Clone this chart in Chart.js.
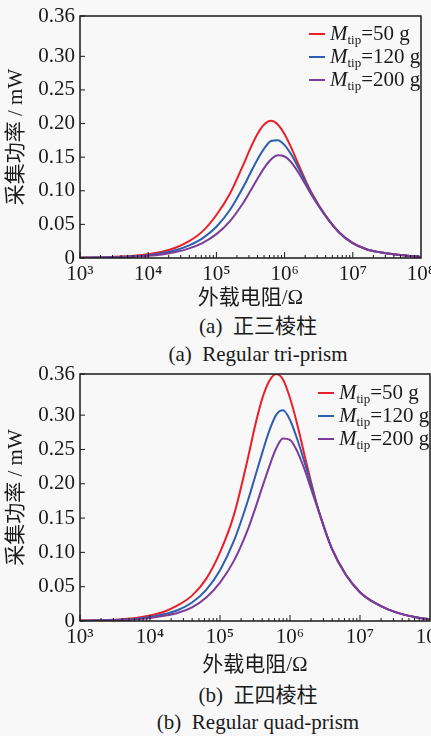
<!DOCTYPE html>
<html>
<head>
<meta charset="UTF-8">
<title>采集功率 - 外载电阻</title>
<script src="https://cdn.jsdelivr.net/npm/chart.js@4.4.0/dist/chart.umd.min.js"></script>
<style>
  body { margin:0; background:#f8f8f8; width:431px; height:736px; position:relative; overflow:hidden;
         font-family:'Liberation Serif','Noto Sans CJK SC',serif; color:#1a1a1a; }
  canvas { position:absolute; left:0; }
  .cap { position:absolute; left:258px; transform:translateX(-50%); white-space:nowrap; font-size:21px; line-height:24px; }
  .legend { position:absolute; font-size:21px; }
  .row { display:flex; align-items:center; height:23px; white-space:nowrap; }
  .row .ln { width:16px; height:2px; margin-right:5px; }
  .row .sub { font-size:13px; position:relative; top:6px; }
</style>
</head>
<body>

<canvas id="c1" width="431" height="309" style="top:0"></canvas>
<div class="legend" id="lg1" style="left:309px; top:22px"></div>
<div class="cap" style="top:314px">(a)&nbsp; 正三棱柱</div>
<div class="cap" style="top:342px">(a)&nbsp; Regular tri-prism</div>

<canvas id="c2" width="431" height="316" style="top:360px"></canvas>
<div class="legend" id="lg2" style="left:318px; top:381px"></div>
<div class="cap" style="top:683px">(b)&nbsp; 正四棱柱</div>
<div class="cap" style="top:710px">(b)&nbsp; Regular quad-prism</div>

<script>
// load resistance (ohm); denser around the peaks
var resistance = [1e3, 1.585e3, 2.512e3, 3.981e3, 6.310e3,
                  1e4, 1.585e4, 2.512e4, 3.981e4, 6.310e4,
                  1e5, 1.585e5, 2.512e5,
                  3.162e5, 3.981e5, 5.012e5, 6.310e5, 7.943e5,
                  1e6, 1.259e6, 1.585e6, 1.995e6, 2.512e6,
                  3.981e6, 6.310e6, 1e7, 1.585e7, 2.512e7, 3.981e7, 6.310e7, 1e8];

// harvested power (mW), (a) tri-prism
var triM50  = [0.0005, 0.0008, 0.0013, 0.0021, 0.0034, 0.0055, 0.0092, 0.0152, 0.025, 0.040,
               0.064, 0.096, 0.140,
               0.1635, 0.184, 0.1986, 0.204, 0.1987,
               0.184, 0.1635, 0.140, 0.117, 0.0963,
               0.063, 0.038, 0.022, 0.013, 0.0085, 0.0055, 0.0035, 0.0016];
var triM120 = [0.0004, 0.0006, 0.0010, 0.0016, 0.0026, 0.0042, 0.0070, 0.0115, 0.0188, 0.0296,
               0.0465, 0.0718, 0.1067,
               0.1267, 0.1463, 0.1628, 0.1740, 0.1752,
               0.168, 0.1535, 0.1347, 0.1146, 0.095,
               0.063, 0.038, 0.022, 0.013, 0.0085, 0.0055, 0.0035, 0.0016];
var triM200 = [0.0003, 0.0005, 0.0008, 0.0012, 0.0020, 0.0032, 0.0053, 0.0088, 0.0143, 0.0226,
               0.0355, 0.055, 0.083,
               0.0999, 0.1175, 0.1338, 0.1464, 0.1527,
               0.151, 0.142, 0.1276, 0.1105, 0.093,
               0.0626, 0.038, 0.022, 0.013, 0.0085, 0.0055, 0.0035, 0.0016];

// (b) quad-prism
var quadM50  = [0.0006, 0.0010, 0.0016, 0.0027, 0.0045, 0.0080, 0.0135, 0.023, 0.037, 0.061,
                0.100, 0.155, 0.238,
                0.284, 0.323, 0.349, 0.360, 0.352,
                0.325, 0.288, 0.245, 0.203, 0.164,
                0.105, 0.067, 0.042, 0.027, 0.017, 0.010, 0.0055, 0.0025];
var quadM120 = [0.0004, 0.0007, 0.0011, 0.0019, 0.0032, 0.0058, 0.0097, 0.016, 0.027, 0.045,
                0.074, 0.117, 0.176,
                0.210, 0.244, 0.276, 0.300, 0.307,
                0.293, 0.266, 0.234, 0.199, 0.164,
                0.105, 0.067, 0.042, 0.027, 0.017, 0.010, 0.0055, 0.0025];
var quadM200 = [0.0003, 0.0005, 0.0008, 0.0014, 0.0024, 0.0045, 0.0075, 0.012, 0.020, 0.034,
                0.056, 0.088, 0.134,
                0.163, 0.194, 0.224, 0.251, 0.266,
                0.264, 0.248, 0.223, 0.193, 0.163,
                0.105, 0.067, 0.042, 0.027, 0.017, 0.010, 0.0055, 0.0025];

var massLabels = ['50 g', '120 g', '200 g'];
var lineColors = ['#e8202a', '#2d5fae', '#7d3c98'];

var xTickValues = [1e3, 1e4, 1e5, 1e6, 1e7, 1e8];
var xTickLabels = ['10³', '10⁴', '10⁵', '10⁶', '10⁷', '10⁸'];
var yTickValues = [0, 0.05, 0.10, 0.15, 0.20, 0.25, 0.30, 0.36];
var yTickLabels = ['0', '0.05', '0.10', '0.15', '0.20', '0.25', '0.30', '0.36'];

var latinFont = "'Liberation Serif', serif";
var titleFont = "'Liberation Serif', 'Noto Sans CJK SC', serif";

// box + inward tick marks
var frame = {
  id: 'frame',
  afterDraw: function(chart) {
    var ctx = chart.ctx, a = chart.chartArea, x = chart.scales.x, y = chart.scales.y;
    ctx.save();
    ctx.strokeStyle = '#1a1a1a';
    ctx.lineWidth = 1.5;
    ctx.strokeRect(a.left, a.top, a.right - a.left, a.bottom - a.top);
    ctx.lineWidth = 1;
    ctx.beginPath();
    for (var k = 3; k < 8; k++) {
      for (var m = 1; m < 10; m++) {
        var px = x.getPixelForValue(m * Math.pow(10, k));
        ctx.moveTo(px, a.bottom);
        ctx.lineTo(px, a.bottom - (m === 1 ? 6 : 3));
      }
    }
    yTickValues.forEach(function(v) {
      var py = y.getPixelForValue(v);
      ctx.moveTo(a.left, py);
      ctx.lineTo(a.left + 5, py);
    });
    ctx.stroke();
    ctx.restore();
  }
};

function series(vals) {
  return resistance.map(function(r, i) { return {x: r, y: vals[i]}; });
}

function makeChart(id, sets, pad, xHeight) {
  var datasets = sets.map(function(vals, i) {
    return {
      label: massLabels[i],
      data: series(vals),
      borderColor: lineColors[i],
      borderWidth: 2,
      pointRadius: 0,
      fill: false,
      cubicInterpolationMode: 'monotone',
      order: 2 - i
    };
  });
  return new Chart(document.getElementById(id), {
    type: 'line',
    data: { datasets: datasets },
    options: {
      responsive: false,
      animation: false,
      layout: { padding: pad },
      plugins: { legend: { display: false }, tooltip: { enabled: false } },
      scales: {
        x: {
          type: 'logarithmic',
          min: 1e3, max: 1e8,
          grid: { display: false, drawTicks: false },
          border: { display: false },
          afterBuildTicks: function(s) { s.ticks = xTickValues.map(function(v) { return {value: v}; }); },
          afterFit: function(s) { s.height = xHeight; s.paddingLeft = 0; s.paddingRight = 0; },
          ticks: {
            autoSkip: false, maxRotation: 0, padding: 4, color: '#1a1a1a',
            font: { family: latinFont, size: 21 },
            callback: function(v) { return xTickLabels[xTickValues.indexOf(v)]; }
          },
          title: { display: true, text: '外载电阻/Ω', color: '#1a1a1a', padding: 0,
                   font: { family: titleFont, size: 21, lineHeight: 1 } }
        },
        y: {
          min: 0, max: 0.36,
          grid: { display: false, drawTicks: false },
          border: { display: false },
          afterBuildTicks: function(s) { s.ticks = yTickValues.map(function(v) { return {value: v}; }); },
          afterFit: function(s) { s.width = 74; s.paddingTop = 0; s.paddingBottom = 0; },
          ticks: {
            autoSkip: false, padding: 5, color: '#1a1a1a',
            font: { family: latinFont, size: 21 },
            callback: function(v) { return yTickLabels[yTickValues.indexOf(v)]; }
          },
          title: { display: true, text: '采集功率 / mW', color: '#1a1a1a', padding: 0,
                   font: { family: titleFont, size: 21, lineHeight: 1 } }
        }
      }
    },
    plugins: [frame]
  });
}

function makeLegend(id) {
  var box = document.getElementById(id);
  massLabels.forEach(function(lab, i) {
    var row = document.createElement('div');
    row.className = 'row';
    row.innerHTML = '<span class="ln" style="background:' + lineColors[i] + '"></span>' +
                    '<i>M</i><span class="sub">tip</span>=' + lab;
    box.appendChild(row);
  });
}

var chart1 = makeChart('c1', [triM50, triM120, triM200], {top: 16, right: 10, left: 6, bottom: 0}, 51);
var chart2 = makeChart('c2', [quadM50, quadM120, quadM200], {top: 14, right: 1, left: 6, bottom: 0}, 55);
makeLegend('lg1');
makeLegend('lg2');
</script>
</body>
</html>
